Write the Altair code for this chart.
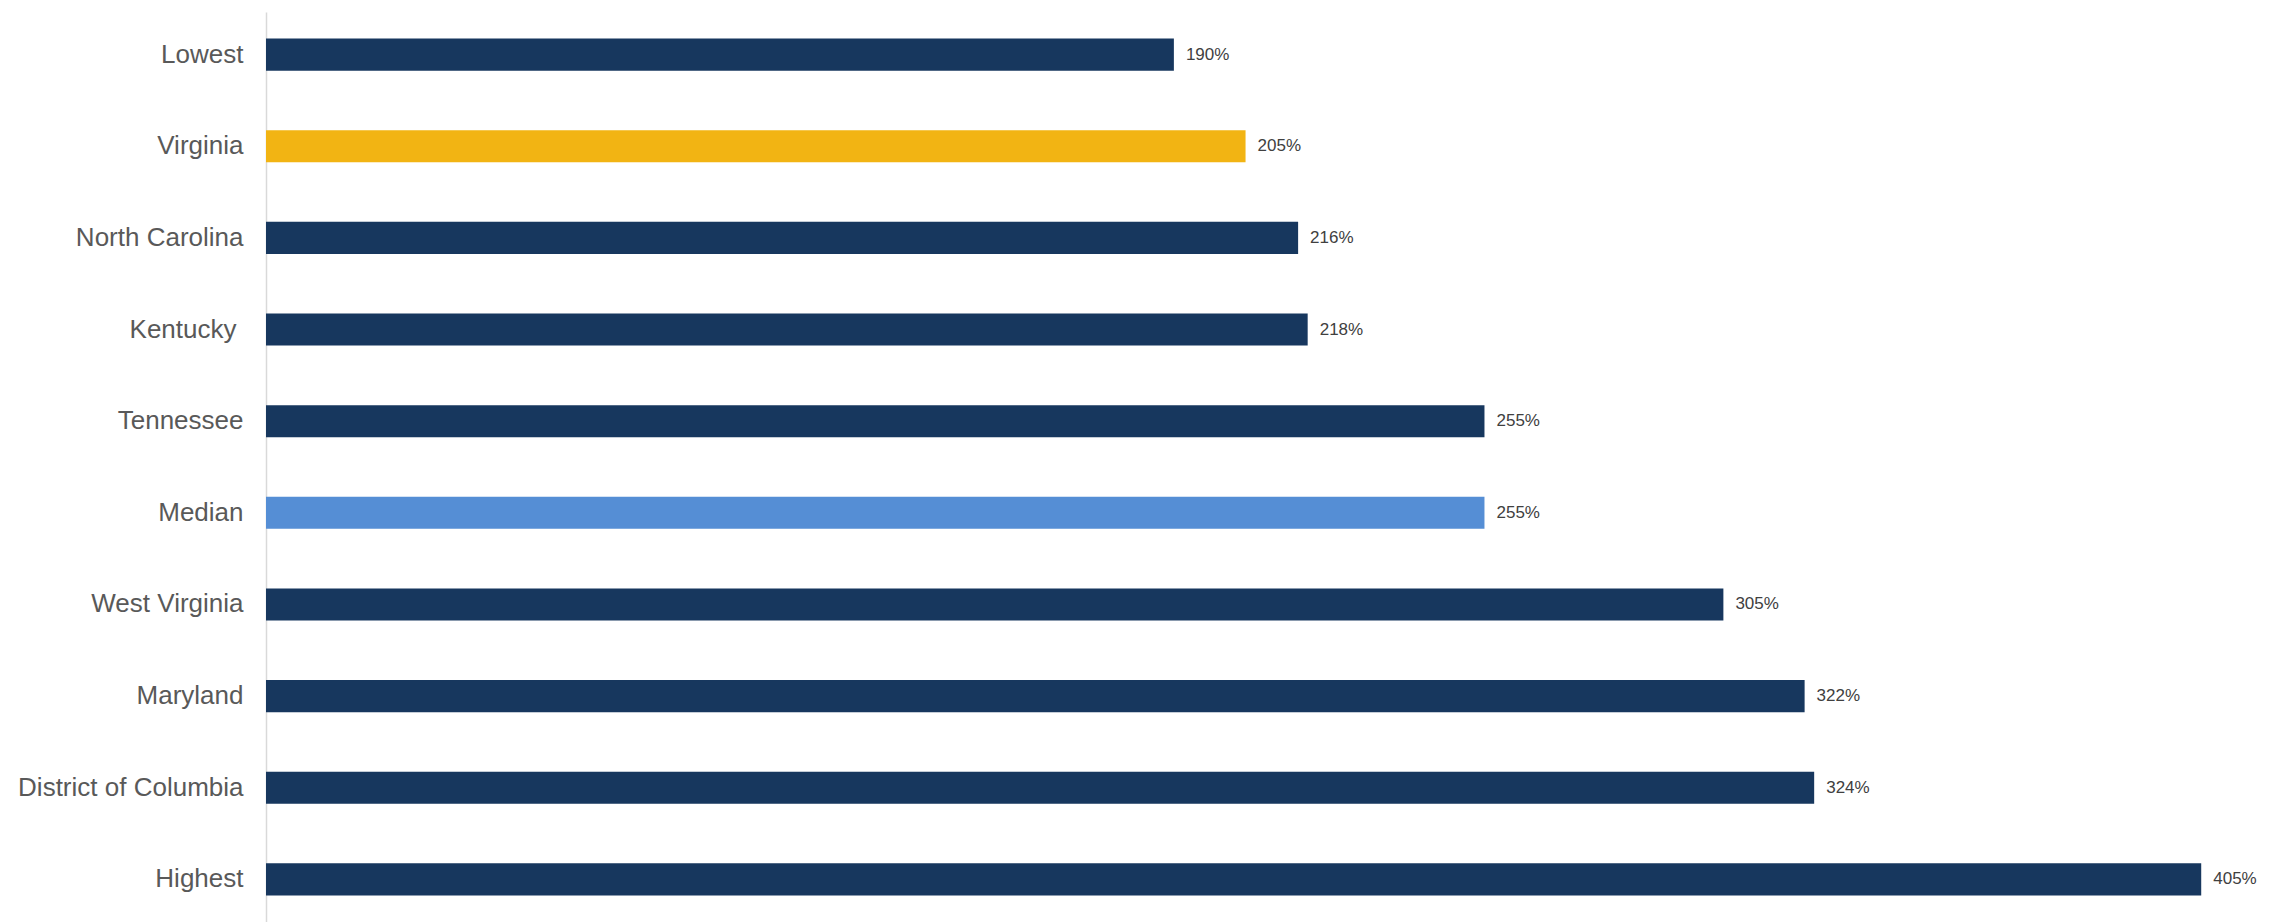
import altair as alt
import pandas as pd

categories = ["Lowest", "Virginia", "North Carolina", "Kentucky ", "Tennessee", "Median",
              "West Virginia", "Maryland", "District of Columbia", "Highest"]
values = [190, 205, 216, 218, 255, 255, 305, 322, 324, 405]
groups = ["other", "virginia", "other", "other", "other", "median", "other", "other", "other", "other"]

df = pd.DataFrame({"category": categories, "value": values, "group": groups})
df["label"] = df["value"].astype(str) + "%"

color_scale = alt.Scale(domain=["other", "virginia", "median"],
                        range=["#17375E", "#F2B413", "#558ED5"])

# the source label "Kentucky " carries a trailing space, which pushes it left by one space width
y_axis = alt.Axis(title=None, ticks=False, grid=False, domainColor="#D9D9D9",
                  domainWidth=1.5, labelFont="Liberation Sans", labelFontSize=26,
                  labelColor="#595959",
                  labelPadding={"condition": {"test": "datum.value === 'Kentucky '", "value": 30},
                                "value": 23},
                  labelLimit=400)
y_scale = alt.Scale(paddingInner=0.65, paddingOuter=0.29)
x_scale = alt.Scale(domain=[0, 415], nice=False, zero=True)

bars = alt.Chart(df).mark_bar().encode(
    y=alt.Y("category:N", sort=categories, scale=y_scale, axis=y_axis),
    x=alt.X("value:Q", scale=x_scale, axis=None),
    color=alt.Color("group:N", scale=color_scale, legend=None),
)

text = alt.Chart(df).mark_text(align="left", baseline="middle", dx=12,
                               font="Liberation Sans", fontSize=17, color="#404040").encode(
    y=alt.Y("category:N", sort=categories, scale=y_scale, axis=y_axis),
    x=alt.X("value:Q", scale=x_scale, axis=None),
    text="label:N",
)

chart = alt.layer(bars, text).properties(
    width=1983, height=910,
    background="white",
    autosize=alt.AutoSizeParams(type="none"),
    padding={"left": 266, "top": 12, "right": 20, "bottom": 0},
).configure_view(stroke=None, strokeWidth=0)

chart.save("out.html", embed_options={"renderer": "svg", "actions": False})
